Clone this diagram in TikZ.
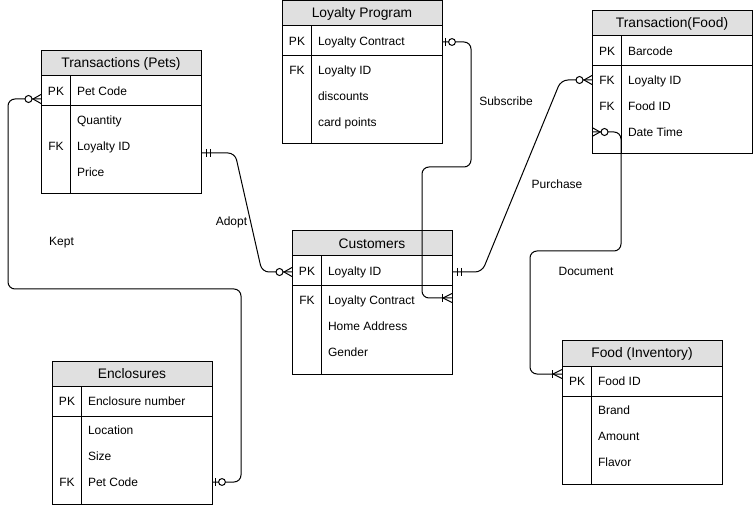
\documentclass[tikz,border=0pt]{standalone}
\usepackage{fontspec}
\setmainfont{Liberation Sans}
\definecolor{hdrgray}{HTML}{E0E0E0}
\newcommand{\erframe}[4]{%
  \node[erhead] (#1) at (#2,#3) {#4};
  \node[erpk] (#1-pk) at (#1.south west) {};
  \node[erbody] (#1-body) at (#1-pk.south west) {};
  \draw ([xshift=29.5pt]#1-pk.north west) -- ([xshift=29.5pt]#1-body.south west);
}
\newcommand{\erkeytext}[4]{\node[erkey] (#1) at (#2+15,#3) {#4};}
\newcommand{\erattrtext}[4]{\node[erattr] (#1) at (#2+35.5,#3) {#4};}
\begin{document}
\begin{tikzpicture}[x=1pt,y=-1pt,line width=1pt,
  erhead/.style={draw, fill=hdrgray, minimum width=160pt, minimum height=25pt, inner sep=0pt, outer sep=0pt, anchor=north west, font=\fontsize{13.8}{16}\selectfont},
  erpk/.style={draw, minimum width=160pt, minimum height=30pt, inner sep=0pt, outer sep=0pt, anchor=north west},
  erbody/.style={draw, minimum width=160pt, minimum height=88pt, inner sep=0pt, outer sep=0pt, anchor=north west},
  erkey/.style={font=\fontsize{12}{14}\selectfont, inner sep=0pt, text height=8.6pt, text depth=0pt},
  erattr/.style={font=\fontsize{12}{14}\selectfont, inner sep=0pt, anchor=west, text height=8.6pt, text depth=0pt},
  lbl/.style={font=\fontsize{12}{14}\selectfont, inner sep=0pt, text height=8.6pt, text depth=0pt},
  conn/.style={draw, rounded corners=7pt},
  mandone/.pic={\draw (5,-4)--(5,4) (9,-4)--(9,4);},
  zmany/.pic={\draw (0,-4.5)--(8,0)--(0,4.5); \draw[fill=white] (12.5,0) circle (3.5);},
  onemany/.pic={\draw (0,-4.5)--(9,0)--(0,4.5); \draw (9.5,-4)--(9.5,4);},
  zone/.pic={\draw (3,-4)--(3,4); \draw[fill=white] (10,0) circle (3.4);}
]
\useasboundingbox (0,0) rectangle (753,505);

% Transactions (Pets)
\erframe{pets}{41}{51}{Transactions (Pets)}
\erkeytext{pets-k1}{41}{91}{PK}\erattrtext{pets-a1}{41}{91}{Pet Code}
\erattrtext{pets-a2}{41}{120}{Quantity}
\erkeytext{pets-k3}{41}{146}{FK}\erattrtext{pets-a3}{41}{146}{Loyalty ID}
\erattrtext{pets-a4}{41}{172}{Price}

% Loyalty Program
\erframe{loy}{282}{1}{Loyalty Program}
\erkeytext{loy-k1}{282}{41}{PK}\erattrtext{loy-a1}{282}{41}{Loyalty Contract}
\erkeytext{loy-k2}{282}{70}{FK}\erattrtext{loy-a2}{282}{70}{Loyalty ID}
\erattrtext{loy-a3}{282}{96}{discounts}
\erattrtext{loy-a4}{282}{122}{card points}

% Transaction(Food)
\erframe{tf}{592}{11}{Transaction(Food)}
\erkeytext{tf-k1}{592}{51}{PK}\erattrtext{tf-a1}{592}{51}{Barcode}
\erkeytext{tf-k2}{592}{80}{FK}\erattrtext{tf-a2}{592}{80}{Loyalty ID}
\erkeytext{tf-k3}{592}{106}{FK}\erattrtext{tf-a3}{592}{106}{Food ID}
\erattrtext{tf-a4}{592}{132}{Date Time}

% Customers
\erframe{cust}{292}{231}{Customers}
\erkeytext{cust-k1}{292}{271}{PK}\erattrtext{cust-a1}{292}{271}{Loyalty ID}
\erkeytext{cust-k2}{292}{300}{FK}\erattrtext{cust-a2}{292}{300}{Loyalty Contract}
\erattrtext{cust-a3}{292}{326}{Home Address}
\erattrtext{cust-a4}{292}{352}{Gender}

% Food (Inventory)
\erframe{food}{562}{341}{Food (Inventory)}
\erkeytext{food-k1}{562}{381}{PK}\erattrtext{food-a1}{562}{381}{Food ID}
\erattrtext{food-a2}{562}{410}{Brand}
\erattrtext{food-a3}{562}{436}{Amount}
\erattrtext{food-a4}{562}{462}{Flavor}

% Enclosures
\erframe{encl}{52}{361}{Enclosures}
\erkeytext{encl-k1}{52}{401}{PK}\erattrtext{encl-a1}{52}{401}{Enclosure number}
\erattrtext{encl-a2}{52}{430}{Location}
\erattrtext{encl-a3}{52}{456}{Size}
\erkeytext{encl-k4}{52}{482}{FK}\erattrtext{encl-a4}{52}{482}{Pet Code}

% connector end points
\coordinate (adoptA) at ([yshift=-102pt]pets.north east);
\coordinate (adoptB) at ([yshift=-41pt]cust.north west);
\coordinate (keptA) at ([yshift=-48pt]pets.north west);
\coordinate (keptB) at ([yshift=-121pt]encl.north east);
\coordinate (subA) at ([yshift=-41pt]loy.north east);
\coordinate (subB) at ([yshift=-67pt]cust.north east);
\coordinate (purA) at ([yshift=-41pt]cust.north east);
\coordinate (purB) at ([yshift=-69pt]tf.north west);
\coordinate (docA) at ([yshift=-121pt]tf.north west);
\coordinate (docB) at ([yshift=-33pt]food.north west);

% connectors
\path[conn] (adoptA) -- (235,153) -- (262,272) -- (adoptB);
\path[conn] (keptA) -- (8,99) -- (8,289) -- (241,289) -- (241,482) -- (keptB);
\path[conn] (subA) -- (471,42) -- (471,167) -- (422,167) -- (422,298) -- (subB);
\path[conn] (purA) -- (482,272) -- (561,80) -- (purB);
\path[conn] (docA) -- (621,132) -- (621,251) -- (530,251) -- (530,374) -- (docB);

% markers
\pic at (adoptA) {mandone};
\pic[xscale=-1] at (adoptB) {zmany};
\pic[xscale=-1] at (keptA) {zmany};
\pic at (keptB) {zone};
\pic at (subA) {zone};
\pic[xscale=-1] at (subB) {onemany};
\pic at (purA) {mandone};
\pic[xscale=-1] at (purB) {zmany};
\pic at (docA) {zmany};
\pic[xscale=-1] at (docB) {onemany};

% labels
\node[lbl] (lsub) at (506,101) {Subscribe};
\node[lbl] (lpur) at (557,184) {Purchase};
\node[lbl] (ldoc) at (586,271) {Document};
\node[lbl] (ladopt) at (231.5,221) {Adopt};
\node[lbl] (lkept) at (61.5,241) {Kept};
\end{tikzpicture}
\end{document}
